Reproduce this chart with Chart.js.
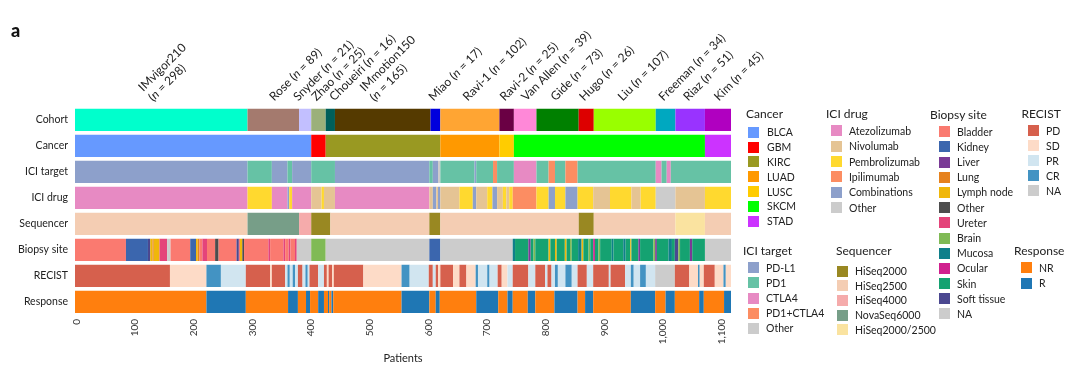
<!DOCTYPE html>
<html><head><meta charset="utf-8">
<script src="https://cdn.jsdelivr.net/npm/chart.js@4"></script>
<style>
html,body{margin:0;padding:0;background:#fff;}
#wrap{position:relative;width:1080px;height:370px;font-family:Lato,'Liberation Sans',sans-serif;color:#222;overflow:hidden;}
canvas{position:absolute;left:0;top:0;}
.lt{position:absolute;font-size:12px;line-height:14px;white-space:nowrap;transform:translateY(-50%);}
.sw{position:absolute;width:11px;height:11px;}
.li{position:absolute;font-size:10.5px;line-height:12px;white-space:nowrap;transform:translateY(-50%);}
</style></head>
<body><div id="wrap"><canvas id="c" width="1080" height="370"></canvas><div id="leg"></div></div>
<script>
// ---------------- DATA ----------------
const rowNames = ['Cohort','Cancer','ICI target','ICI drug','Sequencer','Biopsy site','RECIST','Response'];
const cohortNames = ['IMvigor210','Rose','Snyder','Zhao','Choueiri','IMmotion150','Miao','Ravi-1','Ravi-2','Van Allen','Gide','Hugo','Liu','Freeman','Riaz','Kim'];
const cohortSizes = [298,89,21,25,16,165,17,102,25,39,73,26,107,34,51,45];
const twoLineCohorts = ['IMvigor210','IMmotion150'];
const xTickValues = [0,100,200,300,400,500,600,700,800,900,1000,1100];

// runs: [category, last patient index of run]
const cancerRuns = [['BLCA',408],['GBM',433],['KIRC',631],['LUAD',733],['LUSC',758],['SKCM',1088],['STAD',1133]];
const targetRuns = [['PD-L1',298],['PD1',340],['PD-L1',367],['PD1',375],['PD-L1',408],['PD1',449],['PD-L1',612],['PD1',618],['PD-L1',627],['Other',631],['PD1',690],['PD-L1',693],['PD1',722],['PD1+CTLA4',729],['PD1',758],['CTLA4',797],['PD1',818],['PD1+CTLA4',829],['PD1',847],['PD1+CTLA4',868],['PD1',1003],['CTLA4',1013],['PD1',1022],['CTLA4',1029],['PD1',1133]];
const drugRuns = [['Atezolizumab',298],['Pembrolizumab',340],['Atezolizumab',367],['Combinations',370],['Pembrolizumab',375],['Atezolizumab',408],['Nivolumab',426],['Pembrolizumab',430],['Nivolumab',449],['Atezolizumab',612],['Nivolumab',618],['Combinations',624],['Nivolumab',627],['Combinations',631],['Nivolumab',664],['Pembrolizumab',687],['Combinations',693],['Nivolumab',712],['Pembrolizumab',721],['Combinations',729],['Nivolumab',739],['Pembrolizumab',745],['Nivolumab',750],['Pembrolizumab',756],['Ipilimumab',797],['Pembrolizumab',818],['Combinations',829],['Pembrolizumab',847],['Combinations',868],['Pembrolizumab',895],['Nivolumab',924],['Pembrolizumab',961],['Nivolumab',977],['Pembrolizumab',1003],['Other',1037],['Nivolumab',1088],['Pembrolizumab',1133]];
const seqRuns = [['HiSeq2500',298],['NovaSeq6000',387],['HiSeq4000',408],['HiSeq2000',441],['HiSeq2500',612],['HiSeq2000',631],['HiSeq2500',870],['HiSeq2000',896],['HiSeq2500',1037],['HiSeq2000/2500',1088],['HiSeq2500',1133]];
const biopsyRuns = [['Bladder',88],['Kidney',126],['Soft tissue',130],['Lymph node',134],['Lung',136],['Lymph node',146],['Ureter',159],['NA',165],['Bladder',199],['Kidney',209],['Lymph node',212],['Lung',215],['Bladder',220],['Ureter',228],['Bladder',242],['Other',248],['Bladder',279],['Soft tissue',283],['Bladder',285],['Lymph node',289],['Other',292],['Bladder',334],['Ureter',337],['Bladder',360],['Ureter',363],['Bladder',369],['Ureter',372],['Bladder',380],['Ureter',383],['NA',408],['Brain',433],['NA',612],['Kidney',631],['NA',756],['Mucosa',760],['Skin',783],['Liver',787],['Skin',792],['Brain',795],['Skin',818],['Lymph node',821],['Skin',829],['Lymph node',832],['Skin',846],['Lymph node',849],['Skin',855],['Brain',858],['Skin',869],['Mucosa',875],['Lymph node',878],['Skin',887],['Brain',890],['Skin',895],['Ocular',898],['Skin',904],['Brain',907],['Skin',927],['Mucosa',930],['Skin',947],['Mucosa',951],['Skin',959],['Lymph node',961],['Skin',973],['Liver',976],['Skin',999],['Brain',1002],['Liver',1005],['Skin',1025],['Mucosa',1031],['Skin',1036],['Soft tissue',1042],['Brain',1045],['Skin',1062],['Liver',1066],['Skin',1088],['NA',1133]];
const recistRuns = [['PD',164],['SD',227],['CR',252],['PR',295],['PD',337],['SD',340],['PD',363],['PR',367],['CR',371],['PR',376],['CR',380],['PR',385],['PD',393],['PR',398],['CR',402],['PR',405],['PD',420],['PR',430],['PD',435],['SD',438],['PD',444],['SD',447],['PD',498],['SD',564],['CR',578],['PR',611],['PD',618],['PR',623],['PD',627],['SD',631],['PD',653],['SD',664],['PD',676],['SD',692],['CR',696],['PR',712],['CR',716],['PR',730],['PD',737],['SD',747],['PR',756],['PD',783],['PR',795],['PD',812],['PR',816],['PD',823],['PR',829],['CR',834],['PR',847],['CR',858],['PR',868],['PD',884],['PR',895],['PD',922],['PR',925],['PD',950],['PR',960],['CR',965],['PR',976],['CR',986],['PR',1002],['NA',1036],['PD',1061],['SD',1076],['CR',1079],['SD',1086],['PD',1105],['SD',1120],['CR',1124],['SD',1133]];
const responseRuns = [['NR',227],['R',295],['NR',368],['R',385],['NR',399],['R',406],['NR',420],['R',430],['NR',437],['R',439],['NR',443],['R',446],['NR',564],['R',612],['NR',623],['R',630],['NR',693],['R',731],['NR',747],['R',756],['NR',782],['R',795],['NR',828],['R',868],['NR',881],['R',895],['NR',960],['R',1002],['NR',1020],['R',1036],['NR',1078],['R',1086],['NR',1121],['R',1133]];

// ---------------- COLOURS ----------------
const cohortColors = {'IMvigor210':'#00FFCC','Rose':'#A47A6E','Snyder':'#C2BFFF','Zhao':'#9BB07A','Choueiri':'#005F5A','IMmotion150':'#553A00','Miao':'#0000DD','Ravi-1':'#FFA533','Ravi-2':'#6A0044','Van Allen':'#FF88D8','Gide':'#008000','Hugo':'#DD0000','Liu':'#99FF00','Freeman':'#00A8C0','Riaz':'#9933FF','Kim':'#B000C0'};
const cancerColors = {BLCA:'#6699FF',GBM:'#FF0000',KIRC:'#999922',LUAD:'#FF9900',LUSC:'#FFCC00',SKCM:'#00FF00',STAD:'#CC33FF'};
const drugColors = {Atezolizumab:'#E78AC3',Nivolumab:'#E5C494',Pembrolizumab:'#FFD92F',Ipilimumab:'#FC8D62',Combinations:'#8DA0CB',Other:'#CCCCCC'};
const biopsyColors = {'Bladder':'#FA7A70','Kidney':'#3B66AE','Liver':'#7A3A96','Lung':'#E6821E','Lymph node':'#F0B70A','Other':'#4D4D4D','Ureter':'#E4447A','Brain':'#80BA55','Mucosa':'#0F7F8A','Ocular':'#D0208E','Skin':'#15A271','Soft tissue':'#4B4890','NA':'#CCCCCC'};
const recistColors = {PD:'#D6604D',SD:'#FDDBC7',PR:'#D1E5F0',CR:'#4393C3',NA:'#CCCCCC'};
const targetColors = {'PD-L1':'#8DA0CB','PD1':'#66C2A5','CTLA4':'#E78AC3','PD1+CTLA4':'#FC8D62','Other':'#CCCCCC'};
const seqColors = {'HiSeq2000':'#998822','HiSeq2500':'#F4CDB3','HiSeq4000':'#F5ABAB','NovaSeq6000':'#779E88','HiSeq2000/2500':'#FAE3A0'};
const responseColors = {NR:'#FF7F0E',R:'#1F77B4'};

// label placement nudges (pixels, layout only)
const labelNudge = {'Snyder':-5,'Choueiri':6,'Rose':3,'Kim':3,'Van Allen':3};

// ---------------- BUILD ----------------
let acc = 0;
const cohortRuns = cohortNames.map((n,i)=>{acc += cohortSizes[i]; return [n, acc];});
const totalPatients = acc;

const rowDefs = [
  [cohortRuns, cohortColors],[cancerRuns, cancerColors],[targetRuns, targetColors],[drugRuns, drugColors],
  [seqRuns, seqColors],[biopsyRuns, biopsyColors],[recistRuns, recistColors],[responseRuns, responseColors]
];

const datasets = rowDefs.map(([runs, pal], r) => {
  let s = 0;
  const data = [], colors = [];
  runs.forEach(([c, e]) => { data.push({x:[s, e], y:rowNames[r]}); colors.push(pal[c]); s = e; });
  return {data, backgroundColor: colors, borderWidth:0, borderSkipped:false, grouped:false,
          barPercentage:0.857, categoryPercentage:1, xAxisID:'x', yAxisID:'y'};
});

const FONT = "Lato, 'Liberation Sans', sans-serif";

const cohortLabelPlugin = {
  id:'cohortLabels',
  afterDraw(chart){
    const ctx = chart.ctx, xs = chart.scales.x;
    ctx.save();
    ctx.fillStyle = '#222';
    ctx.textBaseline = 'alphabetic';
    ctx.textAlign = 'left';
    const drawPieces = (pieces, ax, ay) => {
      ctx.save();
      ctx.translate(ax, ay);
      ctx.rotate(-Math.PI/4);
      let off = 0;
      pieces.forEach(([t, it]) => {
        ctx.font = (it ? 'italic ' : '') + '12px ' + FONT;
        ctx.fillText(t, off, 0);
        off += ctx.measureText(t).width;
      });
      ctx.restore();
    };
    let start = 0;
    cohortNames.forEach((name, i) => {
      const n = cohortSizes[i];
      const cx = xs.getPixelForValue(start + n/2) + (labelNudge[name] || 0);
      start += n;
      if (twoLineCohorts.includes(name)) {
        drawPieces([[name,false]], cx - 18, 92);
        drawPieces([['(',false],['n',true],[' = ' + n + ')',false]], cx - 8, 102);
      } else {
        drawPieces([[name + ' (',false],['n',true],[' = ' + n + ')',false]], cx - 2, 101.5);
      }
    });
    ctx.font = '900 18px ' + FONT;
    ctx.fillStyle = '#111';
    ctx.fillText('a', 11, 37);
    ctx.restore();
  }
};

new Chart(document.getElementById('c'), {
  type:'bar',
  data:{labels: rowNames, datasets},
  options:{
    indexAxis:'y',
    responsive:false,
    animation:false,
    events:[],
    layout:{padding:{top:106.85, right:349, left:0, bottom:0}},
    plugins:{legend:{display:false}, tooltip:{enabled:false}},
    scales:{
      x:{type:'linear', min:0, max:totalPatients, display:false},
      x2:{type:'linear', axis:'x', position:'bottom', min:-2.6, max:1116,
          afterBuildTicks(s){ s.ticks = xTickValues.map(v=>({value:v})); },
          afterFit(s){ s.height = 370 - 314.85; },
          grid:{display:false, drawTicks:false}, border:{display:false},
          ticks:{autoSkip:false, minRotation:90, maxRotation:90, padding:4, color:'#333',
                 font:{family:FONT, size:10}, callback:(v)=>Number(v).toLocaleString('en-US')},
          title:{display:true, text:'Patients', color:'#222', font:{family:FONT, size:11}, padding:{top:0, bottom:5}}
      },
      y:{type:'category', afterFit(s){ s.width = 75; },
         grid:{display:false, drawTicks:false}, border:{display:false},
         ticks:{padding:7, color:'#222', font:{family:FONT, size:10.5}}}
    }
  },
  plugins:[cohortLabelPlugin]
});

// ---------------- LEGENDS (HTML text) ----------------
const legendLayout = [
  {title:'Cancer', pal:cancerColors, tx:746, ty:114, sx:748, lx:767, y0:132.3, dy:14.8},
  {title:'ICI drug', pal:drugColors, tx:826, ty:114, sx:831, lx:849, y0:130.7, dy:15.4},
  {title:'Biopsy site', pal:biopsyColors, tx:930, ty:115, sx:939, lx:957, y0:131.7, dy:15.19},
  {title:'RECIST', pal:recistColors, tx:1021.5, ty:113.5, sx:1028, lx:1046, y0:130.7, dy:15},
  {title:'ICI target', pal:targetColors, tx:743, ty:251, sx:748, lx:766, y0:267.7, dy:15.15},
  {title:'Sequencer', pal:seqColors, tx:836, ty:251, sx:837, lx:855, y0:271, dy:14.7},
  {title:'Response', pal:responseColors, tx:1014, ty:251, sx:1021, lx:1039, y0:267.7, dy:15.6}
];
const leg = document.getElementById('leg');
legendLayout.forEach(g => {
  const t = document.createElement('div');
  t.className = 'lt'; t.textContent = g.title;
  t.style.left = g.tx + 'px'; t.style.top = g.ty + 'px';
  leg.appendChild(t);
  Object.keys(g.pal).forEach((k, i) => {
    const y = g.y0 + i * g.dy;
    const s = document.createElement('div');
    s.className = 'sw'; s.style.background = g.pal[k];
    s.style.left = g.sx + 'px'; s.style.top = (y - 5.5) + 'px';
    leg.appendChild(s);
    const l = document.createElement('div');
    l.className = 'li'; l.textContent = k;
    l.style.left = g.lx + 'px'; l.style.top = y + 'px';
    leg.appendChild(l);
  });
});
</script>
</body></html>
